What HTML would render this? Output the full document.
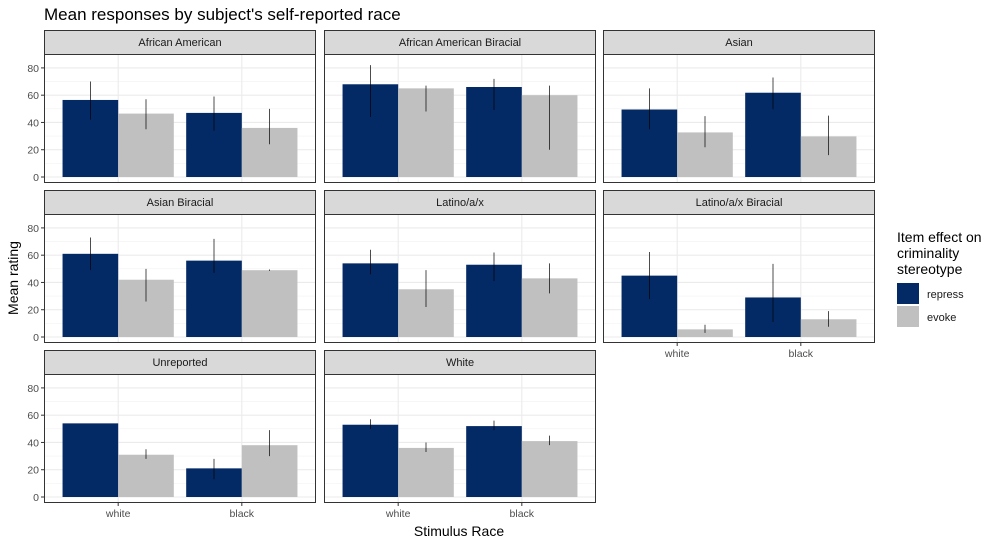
<!DOCTYPE html>
<html><head><meta charset="utf-8"><style>
body{margin:0;background:#fff}
svg{font-family:"Liberation Sans",Arial,sans-serif}
</style></head><body>
<svg id="c" width="1000" height="546" xmlns="http://www.w3.org/2000/svg">
<text x="44" y="20" font-size="17" fill="#000">Mean responses by subject's self-reported race</text>
<text x="459" y="536" font-size="14" text-anchor="middle">Stimulus Race</text>
<text transform="translate(18,278) rotate(-90)" font-size="14" text-anchor="middle">Mean rating</text>
<g>
<text x="897" y="242" font-size="14"><tspan x="897">Item effect on</tspan><tspan x="897" dy="16">criminality</tspan><tspan x="897" dy="16">stereotype</tspan></text>
<rect x="897" y="283" width="22" height="21" fill="#042a66"/>
<text x="927" y="298" font-size="11" fill="#1a1a1a">repress</text>
<rect x="897" y="306" width="22" height="21" fill="#c0c0c0"/>
<text x="927" y="321" font-size="11" fill="#1a1a1a">evoke</text>
</g>
</svg>
<script>
const panels=["African American","African American Biracial","Asian","Asian Biracial","Latino/a/x","Latino/a/x Biracial","Unreported","White"];
const categories=["white","black"];
const series=["repress","evoke"];
// values per panel: [white-repress, white-evoke, black-repress, black-evoke]
const means=[[56.5,46.5,47,36],[68,65,66,60],[49.5,32.7,61.8,29.8],[61,42,56,49],[54,35,53,43],[45,5.6,29,13],[54,31,21,38],[53,36,52,41]];
const errLow=[[42,35,34,24],[44,48,49,20],[35,21.8,49.7,16],[49,26,47,48.5],[46,22,41,32],[27.8,3,11,7.5],[54,28,13,30],[50,33,49,38]];
const errHigh=[[70,57,59,50],[82,67,72,67],[65,44.6,73,45],[73,50,72,49.5],[64,49,62,54],[62.3,9,53.6,19],[54,35,28,49],[57,40,56,45]];
const yTicks=[0,20,40,60,80];
const yMinor=[10,30,50,70,90];
const colors={repress:"#042a66",evoke:"#c0c0c0"};
const svg=document.getElementById('c');
const NS="http://www.w3.org/2000/svg";
function mk(t,a,p){const e=document.createElementNS(NS,t);for(const k in a)e.setAttribute(k,a[k]);(p||svg).appendChild(e);return e;}
const colX=[44,324,603],W=272,rowY=[30,190,350],SH=24,PH=129;
const yMin=-4.4,yMax=90.2;
panels.forEach((name,i)=>{
  const col=i%3,row=Math.floor(i/3);
  const x0=colX[col],top=rowY[row],py=top+SH;
  const g=mk('g',{});
  
  
  const Y=v=>py+PH-(v-yMin)/(yMax-yMin)*PH;
  const X=u=>x0+(u-0.4)/2.2*W;
  mk('rect',{x:x0,y:py,width:W,height:PH,fill:'#fff'},g);
  yMinor.forEach(v=>{const y=Y(v);if(y>py)mk('line',{x1:x0,x2:x0+W,y1:y,y2:y,stroke:'#f2f2f2','stroke-width':0.6},g);});
  yTicks.forEach(v=>mk('line',{x1:x0,x2:x0+W,y1:Y(v),y2:Y(v),stroke:'#ebebeb','stroke-width':1.1},g));
  categories.forEach((c,ci)=>mk('line',{x1:X(ci+1),x2:X(ci+1),y1:py,y2:py+PH,stroke:'#ebebeb','stroke-width':1.1},g));
  categories.forEach((c,ci)=>{series.forEach((s,si)=>{
    const k=ci*2+si,l=ci+1-0.45+si*0.45;
    const b=mk('rect',{x:X(l),y:Y(means[i][k]),width:X(l+0.45)-X(l),height:Y(0)-Y(means[i][k]),fill:colors[s]},g);
    
    
    const cx=X(l+0.225);
    const e=mk('line',{x1:cx,x2:cx,y1:Y(errLow[i][k]),y2:Y(errHigh[i][k]),stroke:'#000','stroke-width':0.7},g);
    
    
  });});
  mk('rect',{x:x0+0.5,y:py,width:W-1,height:PH-0.5,fill:'none',stroke:'#333','stroke-width':1},g);
  mk('rect',{x:x0+0.5,y:top+0.5,width:W-1,height:SH,fill:'#d9d9d9',stroke:'#333','stroke-width':1},g);
  const st=mk('text',{x:x0+W/2,y:top+16,'font-size':11,'text-anchor':'middle',fill:'#1a1a1a'},g);
  st.textContent=name;
  
  
  if(col===0){yTicks.forEach(v=>{
    mk('line',{x1:x0-3,x2:x0,y1:Y(v),y2:Y(v),stroke:'#333'},g);
    const t=mk('text',{x:x0-5,y:Y(v)+4,'font-size':10.5,'text-anchor':'end',fill:'#4d4d4d'},g);
    t.textContent=v;
    
    
  });}
  if(row===2||i===5){categories.forEach((c,ci)=>{
    mk('line',{x1:X(ci+1),x2:X(ci+1),y1:py+PH,y2:py+PH+3,stroke:'#333'},g);
    const t=mk('text',{x:X(ci+1),y:py+PH+14,'font-size':10.5,'text-anchor':'middle',fill:'#4d4d4d'},g);
    t.textContent=c;
    
    
  });}
});
</script>
</body></html>
